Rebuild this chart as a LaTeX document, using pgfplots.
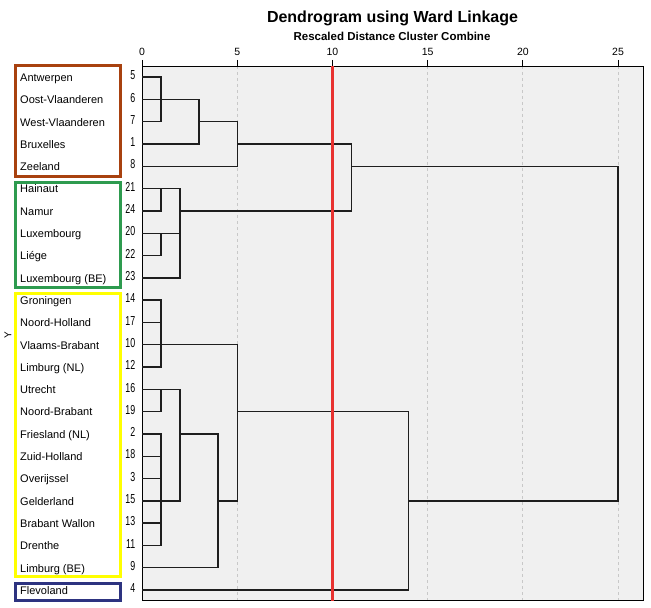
\documentclass[border=0pt]{standalone}
\usepackage{fontspec}
\setmainfont{Liberation Sans}
\usepackage{pgfplots}
\pgfplotsset{compat=1.18}
\definecolor{bgc}{HTML}{F0F0F0}
\definecolor{gridc}{HTML}{C8C8C8}
\definecolor{cutc}{HTML}{E83230}
\definecolor{boxred}{HTML}{A8410F}
\definecolor{boxgreen}{HTML}{2E9B4F}
\definecolor{boxyellow}{HTML}{FFFF00}
\definecolor{boxnavy}{HTML}{2D3380}
\definecolor{linec}{HTML}{1E1E1E}
\begin{document}
\begin{tikzpicture}[x=1bp,y=1bp]
\path[use as bounding box] (0,0) rectangle (651,608);
\begin{axis}[
  at={(142bp,8bp)}, anchor=south west,
  scale only axis, width=501bp, height=534bp,
  xmin=0, xmax=26.31, ymin=-0.5, ymax=23.446,
  y dir=reverse,
  axis background/.style={fill=bgc},
  axis line style={black, line width=0.9bp},
  xtick={0,5,10,15,20,25},
  xtick pos=upper, xticklabel pos=upper,
  tick align=outside, major tick length=6bp,
  xtick style={black, line width=0.9bp},
  xmajorgrids, grid style={gridc, dashed, line width=0.9bp},
  ytick={0,...,23},
  yticklabels={5,6,7,1,8,21,24,20,22,23,14,17,10,12,16,19,2,18,3,15,13,11,9,4},
  ytick pos=left, ytick style={draw=none},
  yticklabel style={font=\fontsize{13bp}{15bp}\selectfont, xscale=0.68, inner sep=1bp, text height=9.3bp, text depth=0bp, yshift=2bp},
  xticklabel style={font=\fontsize{10.5bp}{12bp}\selectfont, inner sep=1.5bp, yshift=2.5bp},
  /pgf/number format/assume math mode=true,
  unbounded coords=jump,
  clip mode=individual,
]
\addplot[linec, line width=1.4bp, line join=miter] coordinates {
 (0,0)(1,0)(1,2)(0,2) (nan,nan)
 (0,1)(3,1)(3,3)(0,3) (nan,nan)
 (3,2)(5,2)(5,4)(0,4) (nan,nan)
 (5,3)(11,3)(11,6)(2,6) (nan,nan)
 (11,4)(25,4)(25,19)(14,19) (nan,nan)
 (0,5)(2,5)(2,9)(0,9) (nan,nan)
 (0,6)(1,6)(1,5) (nan,nan)
 (0,7)(2,7) (nan,nan)
 (0,8)(1,8)(1,7) (nan,nan)
 (0,10)(1,10)(1,13)(0,13) (nan,nan)
 (0,11)(1,11) (nan,nan)
 (0,12)(5,12)(5,19)(4,19) (nan,nan)
 (5,15)(14,15)(14,23)(0,23) (nan,nan)
 (0,14)(2,14)(2,19)(0,19) (nan,nan)
 (0,15)(1,15)(1,14) (nan,nan)
 (0,16)(1,16)(1,21)(0,21) (nan,nan)
 (0,17)(1,17) (nan,nan)
 (0,18)(1,18) (nan,nan)
 (0,20)(1,20) (nan,nan)
 (2,16)(4,16)(4,22)(0,22)
};
\addplot[cutc, line width=3bp] coordinates {(10,-0.5)(10,23.6)};
\begin{scope}[every node/.style={anchor=west, font=\fontsize{11bp}{13bp}\selectfont, inner sep=0pt, text height=8bp, text depth=2.4bp, yshift=-1.5bp}]
\node at ([xshift=-122bp]axis cs:0,0) {Antwerpen};
\node at ([xshift=-122bp]axis cs:0,1) {Oost-Vlaanderen};
\node at ([xshift=-122bp]axis cs:0,2) {West-Vlaanderen};
\node at ([xshift=-122bp]axis cs:0,3) {Bruxelles};
\node at ([xshift=-122bp]axis cs:0,4) {Zeeland};
\node at ([xshift=-122bp]axis cs:0,5) {Hainaut};
\node at ([xshift=-122bp]axis cs:0,6) {Namur};
\node at ([xshift=-122bp]axis cs:0,7) {Luxembourg};
\node at ([xshift=-122bp]axis cs:0,8) {Liége};
\node at ([xshift=-122bp]axis cs:0,9) {Luxembourg (BE)};
\node at ([xshift=-122bp]axis cs:0,10) {Groningen};
\node at ([xshift=-122bp]axis cs:0,11) {Noord-Holland};
\node at ([xshift=-122bp]axis cs:0,12) {Vlaams-Brabant};
\node at ([xshift=-122bp]axis cs:0,13) {Limburg (NL)};
\node at ([xshift=-122bp]axis cs:0,14) {Utrecht};
\node at ([xshift=-122bp]axis cs:0,15) {Noord-Brabant};
\node at ([xshift=-122bp]axis cs:0,16) {Friesland (NL)};
\node at ([xshift=-122bp]axis cs:0,17) {Zuid-Holland};
\node at ([xshift=-122bp]axis cs:0,18) {Overijssel};
\node at ([xshift=-122bp]axis cs:0,19) {Gelderland};
\node at ([xshift=-122bp]axis cs:0,20) {Brabant Wallon};
\node at ([xshift=-122bp]axis cs:0,21) {Drenthe};
\node at ([xshift=-122bp]axis cs:0,22) {Limburg (BE)};
\node at ([xshift=-122bp]axis cs:0,23) {Flevoland};
\end{scope}
\end{axis}
\draw[boxred, line width=3bp] (15.5,542.5) rectangle (120.5,431.5);
\draw[boxgreen, line width=3bp] (15.5,425.5) rectangle (120.5,320.5);
\draw[boxyellow, line width=3bp] (15.5,314.5) rectangle (120.5,31.5);
\draw[boxnavy, line width=3bp] (15.5,24.5) rectangle (120.5,7.5);
\node[font=\bfseries\fontsize{16bp}{18bp}\selectfont] at (392.5,590) {Dendrogram using Ward Linkage};
\node[font=\bfseries\fontsize{11.5bp}{13bp}\selectfont] at (392,572) {Rescaled Distance Cluster Combine};
\node[rotate=90, font=\fontsize{10bp}{12bp}\selectfont] at (8,273) {Y};
\end{tikzpicture}
\end{document}
